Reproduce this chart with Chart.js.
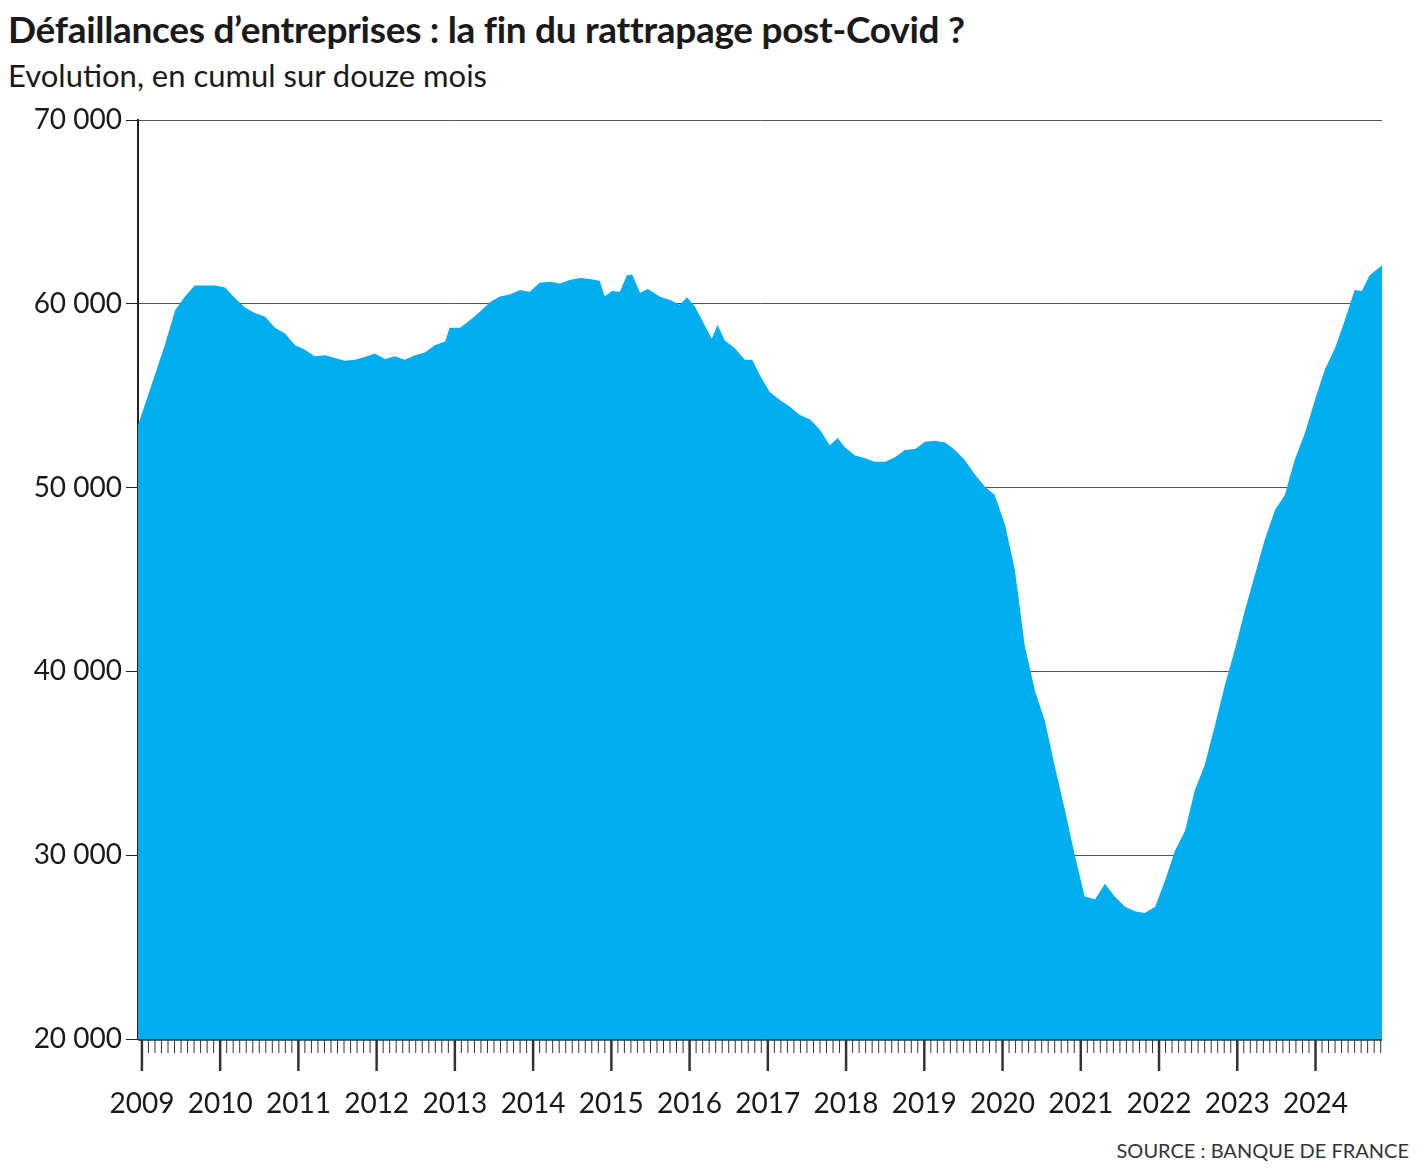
<!DOCTYPE html>
<html><head><meta charset="utf-8">
<script src="https://cdn.jsdelivr.net/npm/chart.js@4"></script>
<style>
body{margin:0;background:#fff;width:1425px;height:1171px;overflow:hidden;font-family:Lato,"Noto Sans",sans-serif;}
#t{position:absolute;left:8px;top:6px;font:bold 37px Lato,"Noto Sans",sans-serif;color:#1a1a1a;letter-spacing:-0.3px}
#s{position:absolute;left:8px;top:56px;font:31px Lato,"Noto Sans",sans-serif;color:#1a1a1a}
#src{position:absolute;right:16px;top:1138px;font:20px Lato,"Noto Sans",sans-serif;color:#333}
canvas{position:absolute;left:0;top:0}
</style></head><body>
<div id="t">Défaillances d’entreprises : la fin du rattrapage post-Covid ?</div>
<div id="s">Evolution, en cumul sur douze mois</div>
<div id="src">SOURCE : BANQUE DE FRANCE</div>
<canvas id="c" width="1425" height="1171"></canvas>
<script>
// months since January 2009
const months=[-0.6,1.2,3.5,5.1,6.6,8.1,9.7,11.2,12.7,14.3,15.8,17.3,18.9,20.4,21.9,23.5,25.0,26.5,28.1,29.6,31.1,32.7,34.2,35.7,37.3,38.8,40.3,41.9,43.4,44.9,46.5,47.2,48.8,50.3,51.8,53.4,54.9,56.4,58.0,59.5,61.0,62.6,64.1,65.6,67.2,68.7,70.2,71.0,72.1,73.3,74.4,75.2,76.4,77.6,79.4,81.0,82.5,83.6,84.8,86.3,87.4,88.3,89.4,90.9,92.5,93.6,94.8,96.3,97.9,99.4,100.9,102.5,104.0,105.5,106.7,107.8,109.4,110.9,112.4,114.0,115.5,117.0,118.6,120.1,121.6,123.2,124.7,126.2,127.8,129.3,130.8,132.4,133.9,135.4,137.0,138.5,140.0,141.6,143.1,144.6,146.2,147.7,149.2,150.8,152.3,153.8,155.4,156.9,158.4,160.0,161.5,163.0,164.6,166.1,167.6,169.2,170.7,172.2,173.8,175.3,176.8,178.4,179.9,181.4,183.0,184.5,186.0,187.1,188.3,190.2];
const failures=[53400,55300,57750,59650,60400,61000,61000,61000,60900,60300,59800,59500,59300,58700,58400,57750,57500,57150,57200,57050,56900,56950,57100,57300,57000,57150,56950,57200,57350,57750,57950,58700,58700,59100,59550,60100,60400,60500,60750,60650,61150,61200,61100,61300,61400,61350,61250,60400,60700,60650,61550,61600,60600,60800,60400,60200,59950,60350,59850,58850,58100,58850,58000,57600,56950,56950,56100,55200,54750,54400,53950,53700,53150,52300,52700,52200,51750,51600,51400,51400,51650,52050,52100,52500,52550,52450,52050,51500,50700,50050,49600,47950,45500,41400,38900,37300,34850,32400,29950,27750,27600,28450,27750,27200,26950,26850,27200,28600,30200,31350,33550,34900,37100,39250,41150,43350,45250,47150,48800,49600,51500,53000,54750,56400,57600,59100,60750,60700,61550,62100];
const startYear=2009;
const yTicks=[20000,30000,40000,50000,60000,70000];
const font='Lato, "Noto Sans", sans-serif';
const tickPlugin={id:'tk',afterDraw(ch){
  const x=ch.scales.x,c=ch.ctx,b=ch.chartArea.bottom;
  c.save();c.strokeStyle='#333';c.lineWidth=1.5;
  c.beginPath();c.moveTo(ch.chartArea.left,b+1);c.lineTo(ch.chartArea.right,b+1);c.stroke();
  for(let m=0;m<=190;m++){const p=x.getPixelForValue(m);
    c.beginPath();c.moveTo(p,b+1);c.lineTo(p,b+(m%12===0?32:14));c.lineWidth=m%12===0?2.5:1;c.stroke();}
  c.restore();}};
new Chart(document.getElementById('c'),{type:'line',
 data:{datasets:[{data:months.map((m,i)=>({x:m,y:failures[i]})),fill:'start',backgroundColor:'#00AEEF',borderWidth:0,pointRadius:0,tension:0}]},
 options:{responsive:false,animation:false,
  layout:{padding:{top:120,right:43,bottom:42,left:10}},
  plugins:{legend:{display:false},tooltip:{enabled:false}},
  scales:{
   x:{type:'linear',min:-0.6,max:190.2,afterFit(s){s.height=90},
      afterBuildTicks(s){s.ticks=[];for(let y=0;y<16;y++)s.ticks.push({value:y*12});},
      grid:{display:false},border:{display:false},
      ticks:{autoSkip:false,maxRotation:0,padding:40,color:'#1a1a1a',font:{family:font,size:28},callback:v=>String(startYear+v/12)}},
   y:{min:20000,max:70000,afterFit(s){s.width=128},
      afterBuildTicks(s){s.ticks=yTicks.map(v=>({value:v}));},
      border:{display:true,color:'#222',width:2},
      grid:{color:'#555',lineWidth:1,tickLength:12,tickColor:'#222',drawTicks:true},
      ticks:{padding:4,color:'#1a1a1a',font:{family:font,size:28},callback:v=>v.toLocaleString('fr-FR').replace(/\s/g,' ')}}
  }},
 plugins:[tickPlugin,{id:'dash',beforeDraw(ch){ch.scales.y.options.grid.borderDash=[4,4];}}]});
</script></body></html>
